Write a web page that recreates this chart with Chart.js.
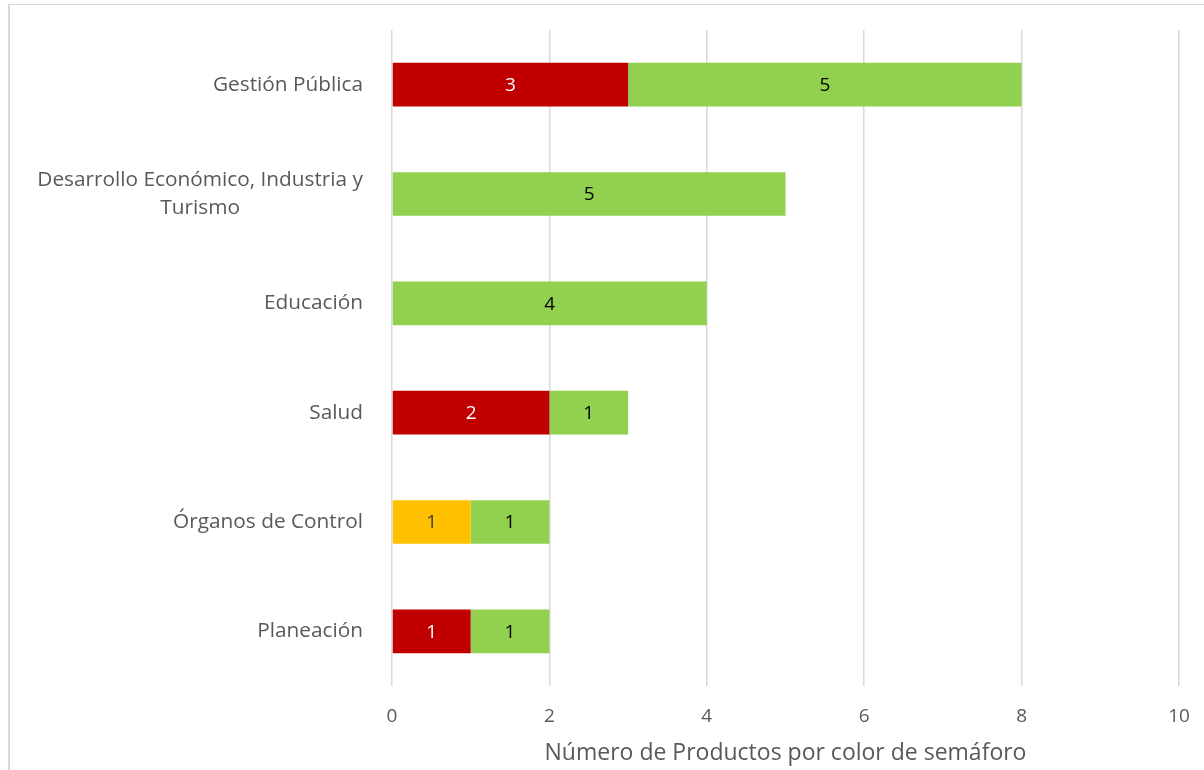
<!DOCTYPE html>
<html>
<head>
<meta charset="utf-8">
<script src="https://cdn.jsdelivr.net/npm/chart.js@4"></script>
<style>
  html, body { margin: 0; padding: 0; background: #fff; overflow: hidden; }
  #frame { position: absolute; left: 8px; top: 4px; width: 1300px; height: 900px;
           border-top: 1px solid #d9d9d9; border-left: 2px solid #d9d9d9; }
  #wrap { position: absolute; left: 0; top: 0; width: 1204px; height: 770px; }
</style>
</head>
<body>
<div id="frame"></div>
<div id="wrap"><canvas id="myChart" width="1204" height="770"></canvas></div>
<script>
// categories, top to bottom
const categories = [
    ['Gestión Pública'],
    ['Desarrollo Económico, Industria y', 'Turismo'],
    ['Educación'],
    ['Salud'],
    ['Órganos de Control'],
    ['Planeación']
];
const rojo = [3, null, null, 2, null, 1];
const amarillo = [null, null, null, null, 1, null];
const verde = [5, 5, 4, 1, 1, 1];
const xTicks = [0, 2, 4, 6, 8, 10];
const axisTitle = 'Número de Productos por color de semáforo';

const FONT = '"Open Sans", "DejaVu Sans", sans-serif';

// draws the category names, multi-line ones centred on their widest line
const categoryLabels = {
    id: 'categoryLabels',
    afterDraw(chart) {
        const ctx = chart.ctx;
        const y = chart.scales.y;
        ctx.save();
        ctx.font = '20.8px ' + FONT;
        ctx.fillStyle = '#595959';
        ctx.textAlign = 'center';
        ctx.textBaseline = 'middle';
        const right = 363, lh = 28;
        categories.forEach((lines, i) => {
            const yc = y.getPixelForValue(i);
            const maxW = Math.max(...lines.map(l => ctx.measureText(l).width));
            const cx = right - maxW / 2;
            lines.forEach((l, j) => {
                ctx.fillText(l, cx, yc + (j - (lines.length - 1) / 2) * lh);
            });
        });
        ctx.restore();
    }
};

// value labels in the middle of each segment
const barValues = {
    id: 'barValues',
    afterDatasetsDraw(chart) {
        const ctx = chart.ctx;
        ctx.save();
        ctx.font = '19px ' + FONT;
        ctx.textAlign = 'center';
        ctx.textBaseline = 'middle';
        chart.data.datasets.forEach((ds, di) => {
            const meta = chart.getDatasetMeta(di);
            meta.data.forEach((el, i) => {
                const v = ds.data[i];
                if (v === null || v === undefined) return;
                const p = el.getProps(['x', 'y', 'base'], true);
                ctx.fillStyle = ds.labelColor;
                ctx.fillText(v, (p.x + p.base) / 2, p.y + 1);
            });
        });
        ctx.restore();
    }
};

const ctx = document.getElementById('myChart').getContext('2d');
const myChart = new Chart(ctx, {
    type: 'bar',
    data: {
        labels: categories,
        datasets: [
            { label: 'Rojo', data: rojo, backgroundColor: '#C00000', labelColor: '#ffffff' },
            { label: 'Amarillo', data: amarillo, backgroundColor: '#FFC000', labelColor: '#404040' },
            { label: 'Verde', data: verde, backgroundColor: '#92D050', labelColor: '#000000' }
        ]
    },
    options: {
        indexAxis: 'y',
        responsive: false,
        animation: false,
        maintainAspectRatio: false,
        categoryPercentage: 0.4,
        barPercentage: 1,
        layout: { padding: { top: 30, right: 25, left: 0, bottom: 0 } },
        plugins: {
            legend: { display: false },
            tooltip: { enabled: false }
        },
        scales: {
            x: {
                stacked: true,
                min: 0,
                max: 10,
                afterBuildTicks: axis => { axis.ticks = xTicks.map(v => ({ value: v })); },
                afterFit: axis => {
                    axis.height = 84;
                    axis.paddingLeft = 0;
                    axis.paddingRight = 0;
                },
                grid: { color: '#d9d9d9', lineWidth: 1.5, drawTicks: false },
                border: { display: false },
                ticks: { color: '#595959', font: { family: FONT, size: 19 }, padding: 19 },
                title: {
                    display: true,
                    text: axisTitle,
                    color: '#595959',
                    font: { family: FONT, size: 23 },
                    padding: { top: 0, bottom: 3 }
                }
            },
            y: {
                stacked: true,
                afterFit: axis => { axis.width = 392; },
                grid: { display: false },
                border: { display: false },
                ticks: { display: false }
            }
        }
    },
    plugins: [categoryLabels, barValues]
});
</script>
</body>
</html>
